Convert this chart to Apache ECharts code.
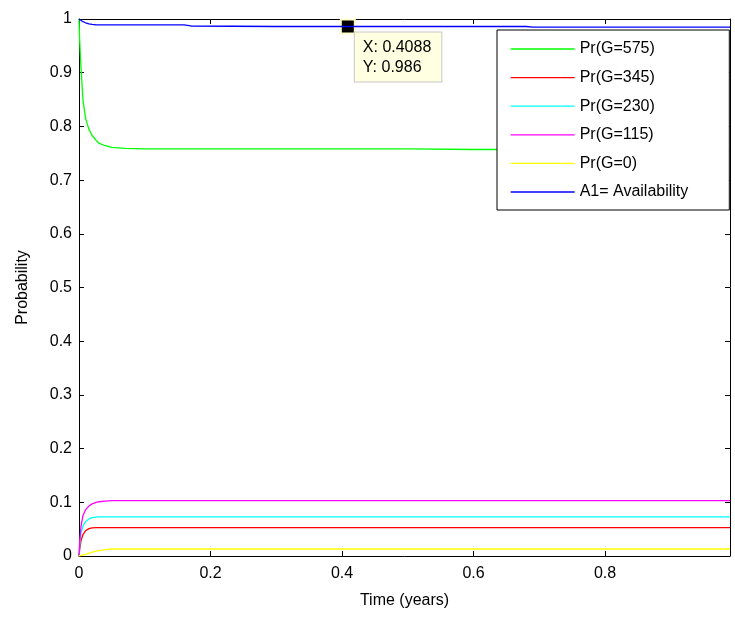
<!DOCTYPE html>
<html>
<head>
<meta charset="utf-8">
<script src="https://cdn.jsdelivr.net/npm/echarts@6/dist/echarts.min.js"></script>
<style>
  html, body { margin: 0; padding: 0; background: #fff; }
  #chart { width: 735px; height: 617px; }
</style>
</head>
<body>
<div id="chart"></div>
<script>
// Sample times (years) shared by every state-probability curve
const times = [0, 0.001, 0.003, 0.006, 0.01, 0.015, 0.02, 0.026, 0.03, 0.04, 0.05, 0.07, 0.1,
  0.16, 0.17, 0.3, 0.4088, 0.5, 0.6, 0.68, 0.69, 0.8, 0.9, 0.99];

// Probability of each generation level
const prG575 = [1, 0.96, 0.91, 0.85, 0.815, 0.795, 0.783, 0.774, 0.769, 0.764, 0.761, 0.759, 0.758,
  0.758, 0.758, 0.758, 0.758, 0.758, 0.757, 0.757, 0.757, 0.756, 0.756, 0.755];
const prG345 = [0, 0.012, 0.028, 0.04, 0.047, 0.051, 0.0525, 0.053, 0.053, 0.053, 0.053, 0.053, 0.053,
  0.053, 0.053, 0.053, 0.053, 0.053, 0.053, 0.053, 0.053, 0.053, 0.053, 0.053];
const prG230 = [0, 0.018, 0.042, 0.056, 0.064, 0.069, 0.0715, 0.0725, 0.073, 0.073, 0.073, 0.073, 0.073,
  0.073, 0.073, 0.073, 0.073, 0.073, 0.073, 0.073, 0.073, 0.073, 0.073, 0.073];
const prG115 = [0, 0.025, 0.055, 0.075, 0.086, 0.093, 0.097, 0.1, 0.101, 0.102, 0.103, 0.103, 0.103,
  0.103, 0.103, 0.103, 0.103, 0.103, 0.103, 0.103, 0.103, 0.103, 0.103, 0.103];
const prG0 = [0, 0, 0.001, 0.002, 0.003, 0.005, 0.007, 0.009, 0.01, 0.012, 0.013, 0.013, 0.013,
  0.013, 0.013, 0.013, 0.013, 0.013, 0.013, 0.013, 0.013, 0.013, 0.013, 0.013];
const availability = [1, 0.999, 0.997, 0.995, 0.993, 0.991, 0.99, 0.989, 0.989, 0.989, 0.989, 0.989, 0.989,
  0.989, 0.987, 0.986, 0.986, 0.986, 0.986, 0.986, 0.985, 0.985, 0.985, 0.985];

const seriesNames = ['Pr(G=575)', 'Pr(G=345)', 'Pr(G=230)', 'Pr(G=115)', 'Pr(G=0)', 'A1= Availability'];
const seriesValues = [prG575, prG345, prG230, prG115, prG0, availability];
const seriesColors = ['#00ff00', '#ff0000', '#00ffff', '#ff00ff', '#ffff00', '#0000ff'];

// Data cursor on the availability curve
const tipX = 0.4088;
const tipY = 0.986;

const xMax = 0.99;
const FONT = '"Liberation Sans", Arial, Helvetica, sans-serif';

const chart = echarts.init(document.getElementById('chart'), null, { renderer: 'canvas' });

const baseAxis = {
  axisLine: { show: true, onZero: false, lineStyle: { color: '#000', width: 1 } },
  axisTick: { show: true, inside: true, length: 5, lineStyle: { color: '#000' } },
  splitLine: { show: false }
};

const series = seriesNames.map((name, i) => ({
  name: name,
  type: 'line',
  symbol: 'none',
  smooth: false,
  animation: false,
  xAxisIndex: 0,
  yAxisIndex: 0,
  lineStyle: { color: seriesColors[i], width: 1.3 },
  itemStyle: { color: seriesColors[i] },
  data: times.map((t, k) => [t, seriesValues[i][k]]),
  z: 2 + i
}));

series[5].markPoint = {
  symbol: 'rect',
  symbolSize: 14,
  animation: false,
  itemStyle: { color: '#000', borderColor: '#ffffcc', borderWidth: 2 },
  label: {
    show: true,
    position: [15, 14],
    formatter: 'X: ' + tipX + '\nY: ' + tipY,
    color: '#000',
    fontFamily: FONT,
    fontSize: 16,
    lineHeight: 20,
    backgroundColor: '#ffffe1',
    borderColor: '#c8c8c8',
    borderWidth: 1,
    padding: [5, 10, 4, 8]
  },
  data: [{ coord: [tipX, tipY] }]
};

chart.setOption({
  animation: false,
  backgroundColor: '#fff',
  textStyle: { fontFamily: FONT, color: '#000' },
  grid: { left: 79, right: 5, top: 19, bottom: 61, containLabel: false },
  legend: {
    data: seriesNames,
    orient: 'vertical',
    left: 497,
    top: 30,
    backgroundColor: '#fff',
    borderColor: '#000',
    borderWidth: 1,
    borderRadius: 0,
    padding: [11, 41, 10, 13],
    itemWidth: 64,
    itemHeight: 14,
    itemGap: 12.6,
    selectedMode: false,
    itemStyle: { opacity: 0 },
    lineStyle: { width: 1.3 },
    textStyle: { fontFamily: FONT, fontSize: 16, color: '#000' }
  },
  xAxis: [
    Object.assign({}, baseAxis, {
      type: 'value', position: 'bottom', min: 0, max: xMax, interval: 0.2,
      axisLabel: { show: true, color: '#000', fontSize: 16, fontFamily: FONT, margin: 10, showMaxLabel: false },
      name: 'Time (years)', nameLocation: 'middle', nameGap: 37,
      nameTextStyle: { color: '#000', fontSize: 16, fontFamily: FONT }
    }),
    Object.assign({}, baseAxis, {
      type: 'value', position: 'top', min: 0, max: xMax, interval: 0.2,
      axisLabel: { show: false }
    })
  ],
  yAxis: [
    Object.assign({}, baseAxis, {
      type: 'value', position: 'left', min: 0, max: 1, interval: 0.1,
      axisLabel: { show: true, color: '#000', fontSize: 16, fontFamily: FONT, margin: 7 },
      name: 'Probability', nameLocation: 'middle', nameGap: 48, nameRotate: 90,
      nameTextStyle: { color: '#000', fontSize: 16, fontFamily: FONT }
    }),
    Object.assign({}, baseAxis, {
      type: 'value', position: 'right', min: 0, max: 1, interval: 0.1,
      axisLabel: { show: false }
    })
  ],
  series: series
});
</script>
</body>
</html>
